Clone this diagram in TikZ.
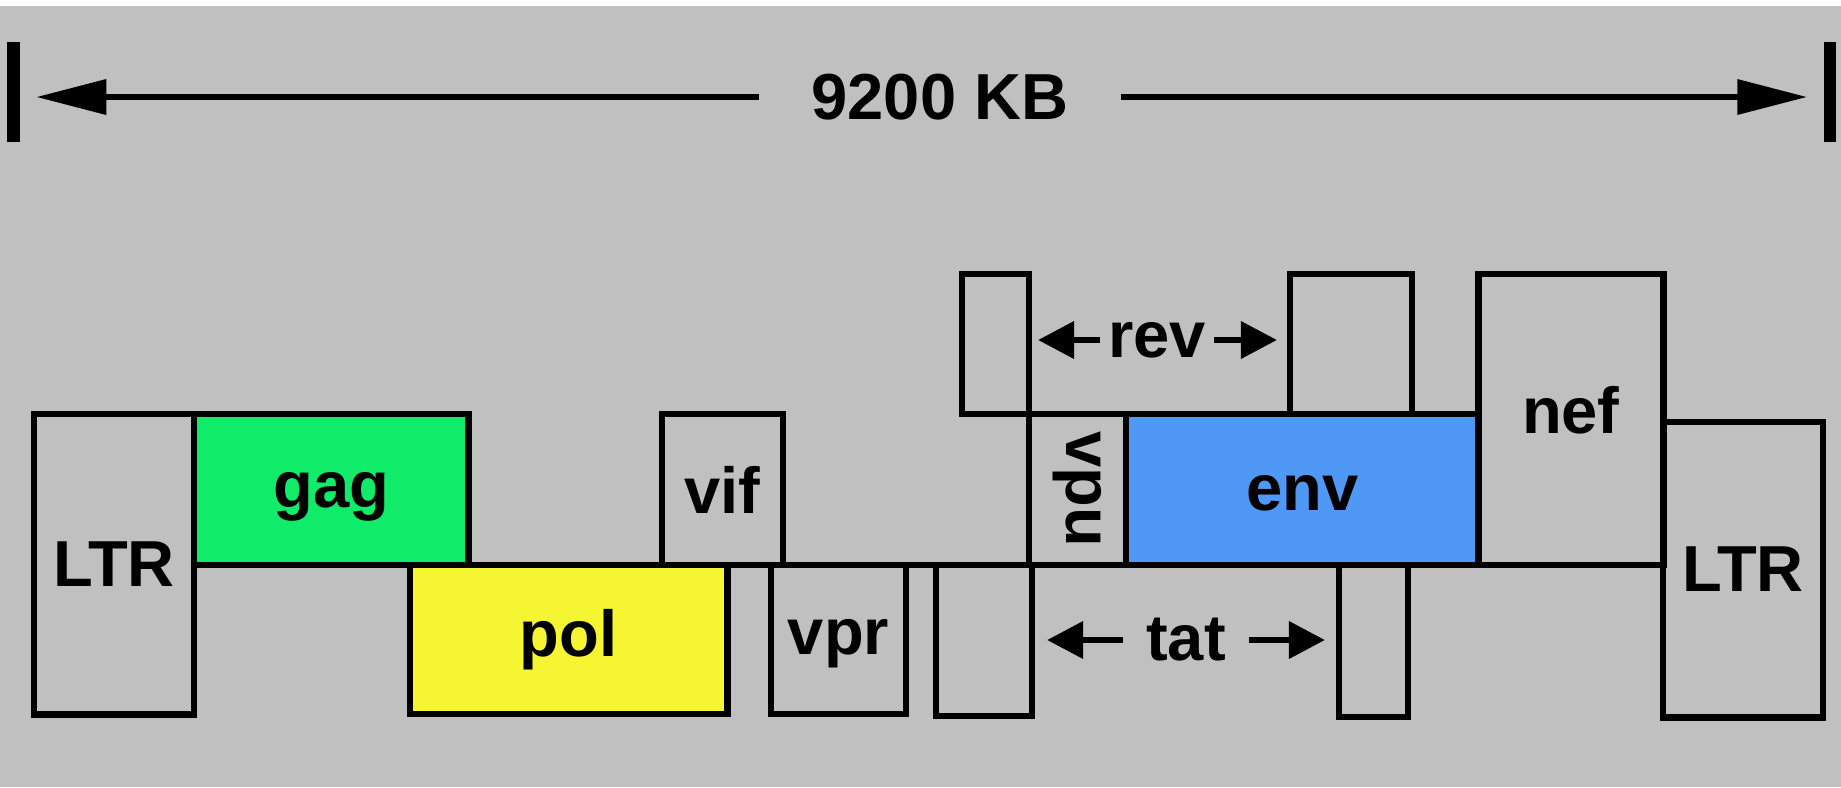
\documentclass[tikz,border=0pt]{standalone}
\usepackage{fontspec}
\setmainfont{Liberation Sans}
\usetikzlibrary{arrows.meta}
\definecolor{bggray}{HTML}{C0C0C0}
\definecolor{gaggreen}{HTML}{10EB6A}
\definecolor{polyellow}{HTML}{F5F532}
\definecolor{envblue}{HTML}{5098F5}

\begin{document}
\begin{tikzpicture}[x=0.01cm,y=-0.01cm,
  gene/.style={draw,rectangle,line width=1.9pt,inner sep=0pt,outer sep=0pt,align=center},
  lbl/.style={font=\bfseries\fontsize{18.5}{22}\selectfont},
  endbar/.style={fill=black,rectangle,inner sep=0pt,minimum width=0.12cm,minimum height=1.0cm},
  bigarrow/.style={line width=1.9pt,-{Triangle[length=7mm,width=3.4mm]}},
  smallarrow/.style={line width=1.9pt,-{Triangle[length=3.6mm,width=3.6mm]}}]
\useasboundingbox (0,0) rectangle (1841,787);
\fill[white] (0,0) rectangle (1841,6);
\fill[bggray] (0,6) rectangle (1841,787);
\node[endbar] (barL) at (13.5,92) {};
\node[endbar] (barR) at (1830,92) {};
\node[lbl,inner xsep=0.52cm] (size) at (940,97) {9200 KB};
\draw[bigarrow,shorten >=0.16cm] (size.west) -- (size.west -| barL.east);
\draw[bigarrow,shorten >=0.16cm] (size.east) -- (size.east -| barR.west);
\node[gene,lbl,anchor=north west,minimum width=1.60cm,minimum height=3.00cm] (ltrL) at (34,414) {LTR};
\node[gene,lbl,fill=gaggreen,text height=0.50cm,anchor=north west,minimum width=2.74cm,minimum height=1.51cm] (gag) at (ltrL.north east) {gag};
\node[gene,lbl,fill=polyellow,anchor=north west,minimum width=3.17cm,minimum height=1.49cm] (pol) at (410,565) {pol};
\node[gene,lbl,anchor=south west,minimum width=1.21cm,minimum height=1.51cm] (vif) at (662,565) {vif};
\node[gene,lbl,text height=0.43cm,anchor=north west,minimum width=1.35cm,minimum height=1.49cm] (vpr) at (771,565) {vpr};
\node[gene,anchor=north west,minimum width=0.96cm,minimum height=1.51cm] (tat1) at (936,565) {};
\node[gene,lbl,anchor=south west,minimum width=0.97cm,minimum height=1.51cm] (vpu) at (1029,565) {\rotatebox{-90}{vpu}};
\node[gene,anchor=south east,minimum width=0.67cm,minimum height=1.40cm] (rev1) at (vpu.north west) {};
\node[gene,lbl,fill=envblue,text height=0.43cm,anchor=south west,minimum width=3.52cm,minimum height=1.51cm] (env) at (vpu.south east) {env};
\node[gene,anchor=south west,minimum width=1.22cm,minimum height=1.40cm] (rev2) at (1290,414) {};
\node[gene,anchor=north west,minimum width=0.69cm,minimum height=1.52cm] (tat2) at (1339,565) {};
\node[gene,lbl,text depth=0.18cm,anchor=south west,minimum width=1.85cm,minimum height=2.91cm] (nef) at (env.south east) {nef};
\node[gene,lbl,anchor=north west,minimum width=1.60cm,minimum height=2.95cm] (ltrR) at (1663,422) {LTR};
\draw[line width=1.9pt] (gag.south west) -- (ltrR.west |- gag.south);
\node[lbl,inner xsep=0.07cm] (revl) at (1157,340) {rev};
\draw[smallarrow,shorten >=0.09cm] (revl.west) -- (revl.west -| rev1.east);
\draw[smallarrow,shorten >=0.13cm] (revl.east) -- (revl.east -| rev2.west);
\node[lbl,inner xsep=0.23cm] (tatl) at (1186,640) {tat};
\draw[smallarrow,shorten >=0.15cm] (tatl.west) -- (tatl.west -| tat1.east);
\draw[smallarrow,shorten >=0.14cm] (tatl.east) -- (tatl.east -| tat2.west);
\end{tikzpicture}
\end{document}
